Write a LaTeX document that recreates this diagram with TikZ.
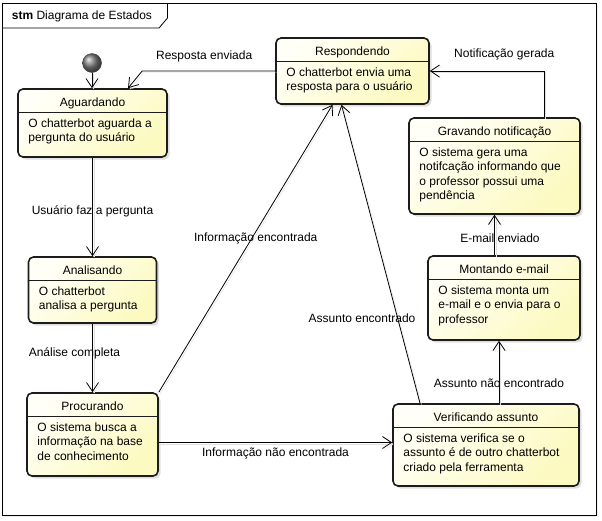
\documentclass[tikz,border=0pt]{standalone}
\usepackage{fontspec}
\setmainfont{Liberation Sans}
\usepackage{xcolor}
\usetikzlibrary{positioning,arrows.meta,shadows}
\definecolor{estadoclaro}{RGB}{255,255,247}
\definecolor{estadoescuro}{RGB}{252,250,192}
\definecolor{borda}{RGB}{28,28,28}

\tikzset{
  estado/.style={draw=borda,line width=1.6pt,rounded corners=5pt,
    top color=estadoclaro,bottom color=estadoescuro,shading angle=45,
    drop shadow={shadow xshift=2.5pt,shadow yshift=-2.5pt,opacity=.25}},
  inicial/.style={circle,minimum size=19pt,inner sep=0pt,draw=black!75,
    shading=ball,ball color=black!50},
  seta/.style={line width=.8pt,-{Straight Barb[length=9pt,width=12pt]},
    preaction={draw=black!12,transform canvas={shift={(1.5pt,-1.5pt)}}}},
  rotulo/.style={inner sep=0pt},
  moldura/.style={line width=.8pt}
}

% estado: nome, posicao, largura, altura, titulo, texto
\newcommand{\estado}[6]{%
  \node[estado,minimum width=#3,minimum height=#4,#2] (#1) {};
  \draw[borda,line width=.8pt] ([yshift=-24.5pt]#1.north west) -- ([yshift=-24.5pt]#1.north east);
  \node[rotulo,anchor=base] (#1-nome) at ([yshift=-18.5pt]#1.north) {#5};
  \node[rotulo,anchor=base west] (#1-texto) at ([xshift=11pt,yshift=-39pt]#1.north west)
    {\begin{tabular}[t]{@{}l@{}}#6\end{tabular}};
}

\begin{document}
\begin{tikzpicture}[x=1pt,y=1pt,font=\fontsize{12pt}{14.4pt}\selectfont]
  \useasboundingbox (0,0) rectangle (602,-520);
  \draw[moldura,fill=white,drop shadow={shadow xshift=2pt,shadow yshift=-2pt,opacity=.12}]
    (2.5,-3) rectangle (596,-515);
  \draw[moldura] (2.5,-28) -- (159,-28) -- (167.5,-18) -- (167.5,-3);
  \node[rotulo,anchor=base west] (titulo) at (11.7,-19.5) {\textbf{stm} Diagrama de Estados};

  \node[inicial] (inicio) at (92,-63) {};
  \estado{aguardando}{at={(92.5,-123)}}{149pt}{68pt}{Aguardando}{O chatterbot aguarda a\\pergunta do usuário}
  \estado{analisando}{on grid,below=167pt of aguardando}{128pt}{66pt}{Analisando}{O chatterbot\\analisa a pergunta}
  \estado{procurando}{on grid,below=144.5pt of analisando}{131pt}{83pt}{Procurando}{O sistema busca a\\informação na base\\de conhecimento}
  \estado{respondendo}{at={(352.5,-71)}}{153pt}{66pt}{Respondendo}{O chatterbot envia uma\\resposta para o usuário}
  \estado{verificando}{at={(486,-445)}}{186pt}{82pt}{Verificando assunto}{O sistema verifica se o\\assunto é de outro chatterbot\\criado pela ferramenta}
  \estado{montando}{on grid,above right=147pt and 18pt of verificando}{152pt}{84pt}{Montando e-mail}{O sistema monta um\\e-mail e o envia para o\\professor}
  \estado{gravando}{on grid,above left=132pt and 9.5pt of montando}{171pt}{96pt}{Gravando notificação}{O sistema gera uma\\notifcação informando que\\o professor possui uma\\pendência}

  \draw[seta] (inicio) -- (inicio |- aguardando.north);
  \draw[seta] (respondendo.west) -- node[rotulo,pos=.534,yshift=15pt] {Resposta enviada} ++(-133,0)
    -- ([xshift=35.5pt]aguardando.north);
  \draw[seta] (aguardando) -- node[rotulo,yshift=-4pt] {Usuário faz a pergunta} (analisando);
  \draw[seta] (analisando) -- node[rotulo,xshift=-18pt,yshift=5pt] {Análise completa} (procurando);
  \draw[seta] (procurando.north east) -- node[rotulo,pos=.535,xshift=4pt] {Informação encontrada}
    ([xshift=-20pt]respondendo.south);
  \draw[seta] ([yshift=-8pt]procurando.east) -- node[rotulo,yshift=-10.5pt] {Informação não encontrada}
    ([yshift=-8pt]procurando.east -| verificando.west);
  \draw[seta] ([xshift=-66pt]verificando.north) -- node[rotulo,pos=.285,xshift=-35.6pt] {Assunto encontrado}
    ([xshift=-11pt]respondendo.south);
  \draw[seta] ([xshift=13pt]verificando.north) -- node[rotulo,yshift=-11pt] {Assunto não encontrado}
    ([xshift=13pt]verificando.north |- montando.south);
  \draw[seta] (montando.north -| gravando.south) -- node[rotulo,xshift=5.5pt,yshift=-3pt] {E-mail enviado}
    (gravando.south);
  \draw[seta] ([xshift=49.5pt]gravando.north) |- node[rotulo,pos=.674,yshift=17pt] {Notificação gerada}
    (respondendo.east);
\end{tikzpicture}
\end{document}
